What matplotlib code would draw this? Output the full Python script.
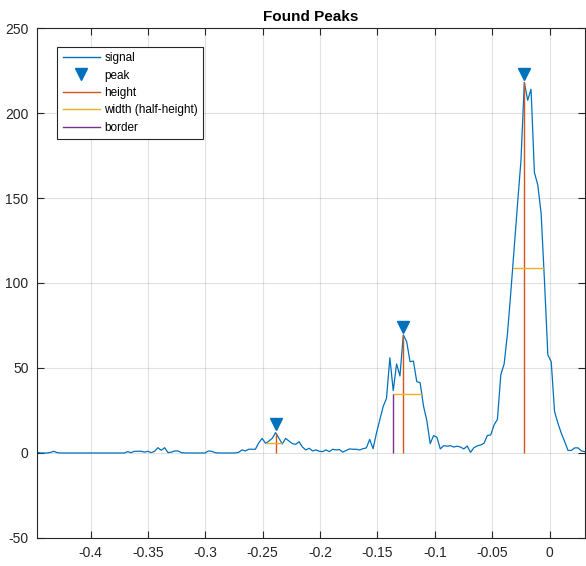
import numpy as np
import matplotlib
matplotlib.use("Agg")
import matplotlib.pyplot as plt
from matplotlib.lines import Line2D
from matplotlib.transforms import offset_copy

plt.rcParams['font.family'] = ['Liberation Sans', 'DejaVu Sans']
plt.rcParams['axes.unicode_minus'] = False

# sample positions (regular grid) and signal values
X_FIRST = -0.44678
X_LAST = 0.03076
signal = [
    0.5, 0, 0, 0, 0.3, 1.0, 0.2, 0, 0, 0,                      # 0-9
    0, 0, 0, 0, 0, 0, 0, 0, 0, 0,                              # 10-19
    0, 0, 0, 0, 0, 0, 0, 0.8, 0.2, 1.0,                        # 20-29
    1.0, 1.0, 0.5, 1.0, 0.2, 1.0, 3.1, 1.6, 3.1, 0.2,          # 30-39
    0.5, 1.2, 1.2, 0.2, 0, 0, 0, 0, 0, 0,                      # 40-49
    0, 1.2, 1.0, 0.2, 0, 0, 0, 0, 0, 0,                        # 50-59
    0.4, 1.8, 1.2, 2.2, 2.2, 2.2, 6.0, 8.6, 5.7, 7.0,          # 60-69
    8.6, 12.0, 8.6, 5.3, 8.6, 7.0, 5.5, 5.1, 6.6, 3.5,         # 70-79
    1.8, 2.8, 1.2, 1.8, 1.0, 0.8, 1.8, 0.8, 2.2, 1.8,          # 80-89
    2.0, 0.5, 1.5, 2.4, 2.2, 2.2, 1.8, 2.5, 3.0, 8.0,          # 90-99
    2.5, 11.6, 19.4, 27.3, 32.2, 56.0, 36.7, 52.4, 45.3, 69.5, # 100-109
    65.5, 53.7, 54.1, 42.0, 41.4, 27.7, 19.0, 5.5, 10.2, 9.3,  # 110-119
    2.4, 4.3, 4.0, 4.3, 3.5, 4.0, 3.5, 2.4, 4.1, 0.4,          # 120-129
    3.1, 4.2, 4.7, 5.7, 10.3, 10.6, 16.5, 19.8, 46.0, 52.4,    # 130-139
    70.5, 95.0, 121.0, 147.0, 172.0, 218.0, 207.5, 214.0, 165.0, 157.7,  # 140-149
    141.0, 101.0, 57.7, 53.7, 24.3, 17.5, 11.6, 6.7, 1.5, 1.5, # 150-159
    3.0, 3.0, 1.2, 0.8,                                        # 160-163
]

# found peaks (sample indices) and their half-height widths
peak_idx = [71, 109, 145]
width_left = [-0.2467, -0.1362, -0.0322]
width_right = [-0.2336, -0.1114, -0.0050]
border_x = [-0.1362]

x = np.linspace(X_FIRST, X_LAST, len(signal))
y = np.array(signal)
px = x[peak_idx]
py = y[peak_idx]
half = py / 2

BLUE = '#0072BD'
ORANGE = '#D95319'
YELLOW = '#EDB120'
PURPLE = '#7E2F8E'

fig = plt.figure(figsize=(5.86, 5.66), dpi=100)
ax = fig.add_axes([0.063, 0.0495, 0.935, 0.901])

ax.plot(x, y, color=BLUE, lw=0.9)

# peak markers, shifted a bit above the peak
mk_trans = offset_copy(ax.transData, fig=fig, x=0, y=6, units='points')
ax.plot(px, py, linestyle='none', marker='v', markersize=8,
        color=BLUE, transform=mk_trans)

ax.vlines(px, 0, py, color=ORANGE, lw=1)
ax.hlines(half, width_left, width_right, color=YELLOW, lw=1)
# border: left limit of the middle peak width
ax.vlines(border_x, 0, half[1], color=PURPLE, lw=1)

ax.set_xlim(X_FIRST, X_LAST)
ax.set_ylim(-50, 250)
ax.set_xticks(np.arange(-0.4, 0.01, 0.05))
ax.set_xticklabels(['-0.4', '-0.35', '-0.3', '-0.25', '-0.2', '-0.15', '-0.1', '-0.05', '0'])
ax.set_yticks(range(-50, 251, 50))

ax.grid(True, color='#262626', alpha=0.13, lw=0.8)
ax.set_axisbelow(True)
ax.tick_params(direction='in', length=5, width=0.8, colors='#262626',
               labelsize=10, top=True, right=True, pad=6)
for s in ax.spines.values():
    s.set_color('#262626')
    s.set_linewidth(0.8)

ax.set_title('Found Peaks', fontsize=11, fontweight='bold', pad=5)

handles = [
    Line2D([], [], color=BLUE, lw=1),
    Line2D([], [], color=BLUE, marker='v', linestyle='none', markersize=8),
    Line2D([], [], color=ORANGE, lw=1),
    Line2D([], [], color=YELLOW, lw=1),
    Line2D([], [], color=PURPLE, lw=1),
]
labels = ['signal', 'peak', 'height', 'width (half-height)', 'border']
leg = ax.legend(handles, labels, loc='upper left', bbox_to_anchor=(0.037, 0.963),
                borderaxespad=0, fontsize=8.5, fancybox=False, framealpha=1,
                edgecolor='#262626', handlelength=3.2, handletextpad=0.35,
                labelspacing=0.46, borderpad=0.45)
leg.get_frame().set_linewidth(0.8)

fig.savefig('out.png', dpi=100)
